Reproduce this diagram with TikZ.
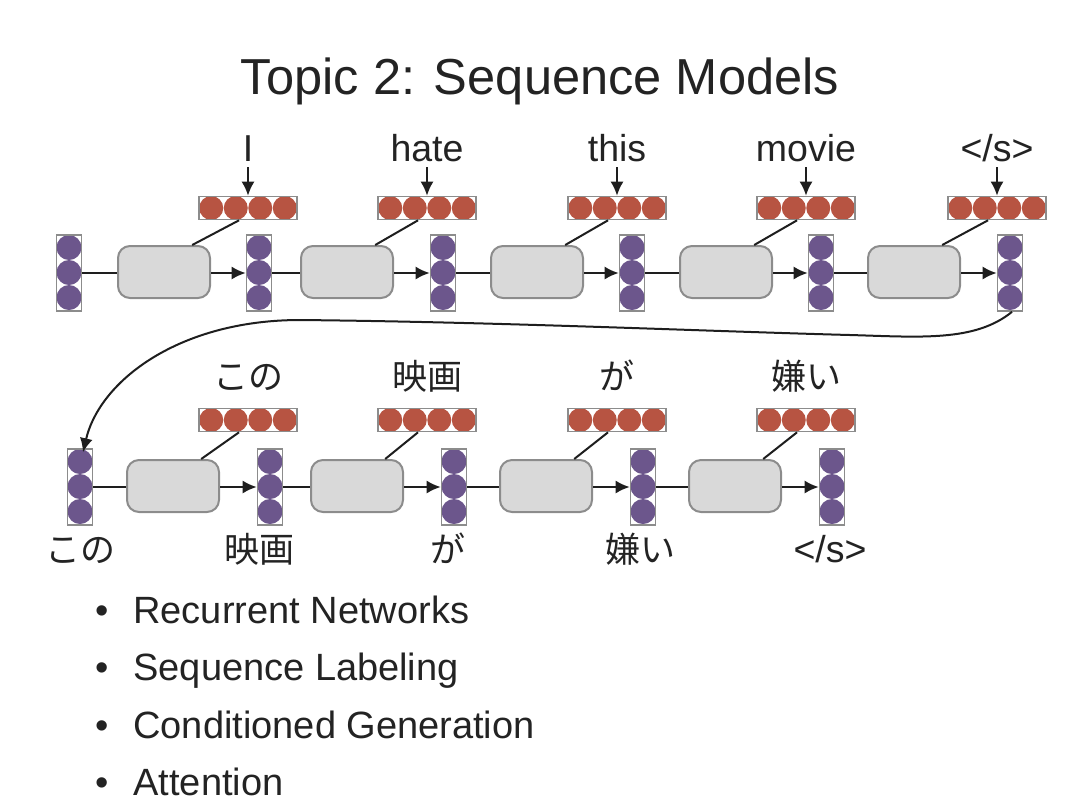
\documentclass[tikz,border=0pt]{standalone}
\usepackage{fontspec}
\setmainfont{Liberation Sans}
\newfontfamily\cjk{Noto Sans CJK JP}
\usetikzlibrary{arrows.meta,calc}
\definecolor{redc}{RGB}{183,84,66}
\definecolor{purc}{RGB}{108,86,140}
\definecolor{vborder}{RGB}{140,140,140}
\definecolor{boxfill}{RGB}{217,217,217}
\definecolor{boxborder}{RGB}{140,140,140}
\definecolor{linec}{RGB}{30,30,30}
\definecolor{textc}{RGB}{35,35,35}
\tikzset{
  redvec/.style={draw=vborder, line width=0.8pt, fill=white, minimum width=49pt, minimum height=11.5pt, inner sep=0pt,
    path picture={\foreach \i in {0,...,3}{\fill[redc] ([xshift={6.125pt+\i*12.25pt}]path picture bounding box.west) circle[radius=6pt];}}},
  purvec/.style={draw=vborder, line width=0.8pt, fill=white, minimum width=12.5pt, minimum height=38pt, inner sep=0pt,
    path picture={\foreach \i in {0,...,2}{\fill[purc] ([yshift={-6.25pt-\i*12.5pt}]path picture bounding box.north) circle[radius=6.25pt];}}},
  graybox/.style={draw=boxborder, fill=boxfill, line width=1pt, rounded corners=6pt, minimum width=46pt, minimum height=26pt, inner sep=0pt},
  lab/.style={anchor=base, inner sep=0pt, text depth=3pt, text=textc, font=\fontsize{18.75pt}{22pt}\selectfont},
  jlab/.style={anchor=base, inner sep=0pt, text=textc, font=\cjk\fontsize{17.5pt}{21pt}\selectfont},
  bul/.style={anchor=base west, inner sep=0pt, text=textc, font=\fontsize{19pt}{23pt}\selectfont},
  conn/.style={draw=linec, line width=1pt},
  arr/.style={conn, -{Latex[length=7pt,width=6.5pt]}},
}
\begin{document}
\begin{tikzpicture}[x=0.5pt,y=-0.5pt]
\useasboundingbox (0,0) rectangle (1080,810);
% title
\node[anchor=base, inner sep=0pt, text=textc, font=\fontsize{25.3pt}{30pt}\selectfont] (title) at (540,94) {Topic 2: Sequence Models};
% top row
\foreach \n/\x in {1/69,2/259,3/443,4/632,5/821,6/1010} \node[purvec] (v\n) at (\x,273) {};
\foreach \n/\x in {1/164,2/347,3/537,4/726,5/914} \node[graybox] (b\n) at (\x,272) {};
\foreach \n/\x in {1/248,2/427,3/617,4/806,5/997} \node[redvec] (r\n) at (\x,208) {};
\node[lab] (l1) at (248,161) {I};
\node[lab] (l2) at (427,161) {hate};
\node[lab] (l3) at (617,161) {this};
\node[lab] (l4) at (806,161) {movie};
\node[lab] (l5) at (997,161) {</s>};
\foreach \n in {1,...,5} {
  \draw[arr] (l\n.south) -- (r\n.north);
  \draw[conn] ($(r\n.south west)!0.41!(r\n.south east)$) -- ($(b\n.north west)!0.8!(b\n.north east)$);
}
\foreach \n/\m in {1/2,2/3,3/4,4/5,5/6} {
  \draw[conn] (v\n.east) -- (v\n.east -| b\n.west);
  \draw[arr] (b\n.east |- v\m.west) -- (v\m.west);
}
% bottom row
\foreach \n/\x in {1/80,2/270,3/454,4/643,5/832} \node[purvec] (bv\n) at (\x,487) {};
\foreach \n/\x in {1/173,2/357,3/546,4/735} \node[graybox] (bb\n) at (\x,486) {};
\foreach \n/\x in {1/248,2/427,3/617,4/806} \node[redvec] (br\n) at (\x,420) {};
\node[jlab] (ja1) at (248,389) {この};
\node[jlab] (ja2) at (427,389) {映画};
\node[jlab] (ja3) at (617,389) {が};
\node[jlab] (ja4) at (806,389) {嫌い};
\node[jlab] (jb1) at (80,562) {この};
\node[jlab] (jb2) at (259,562) {映画};
\node[jlab] (jb3) at (448,562) {が};
\node[jlab] (jb4) at (640,562) {嫌い};
\node[lab] (jb5) at (830,562) {</s>};
\foreach \n in {1,...,4} {
  \draw[conn] ($(br\n.south west)!0.41!(br\n.south east)$) -- ($(bb\n.north west)!0.8!(bb\n.north east)$);
}
\foreach \n/\m in {1/2,2/3,3/4,4/5} {
  \draw[conn] (bv\n.east) -- (bv\n.east -| bb\n.west);
  \draw[arr] (bb\n.east |- bv\m.west) -- (bv\m.west);
}
% long curve
\draw[arr] ([xshift=1pt]v6.south) .. controls (975,342) and (920,337) .. (850,335)
  .. controls (700,331) and (500,322) .. (300,320)
  .. controls (180,320) and (100,380) .. ([xshift=1.5pt,yshift=-2pt]bv1.north);
% bullets
\foreach \n/\y/\t in {1/623/Recurrent Networks,2/680/Sequence Labeling,3/738/Conditioned Generation,4/795/Attention} {
  \node[anchor=base, inner sep=0pt, text=textc, font=\fontsize{19pt}{23pt}\selectfont] (d\n) at (102,\y) {•};
  \node[bul] (t\n) at (133,\y) {\t};
}
\end{tikzpicture}
\end{document}
